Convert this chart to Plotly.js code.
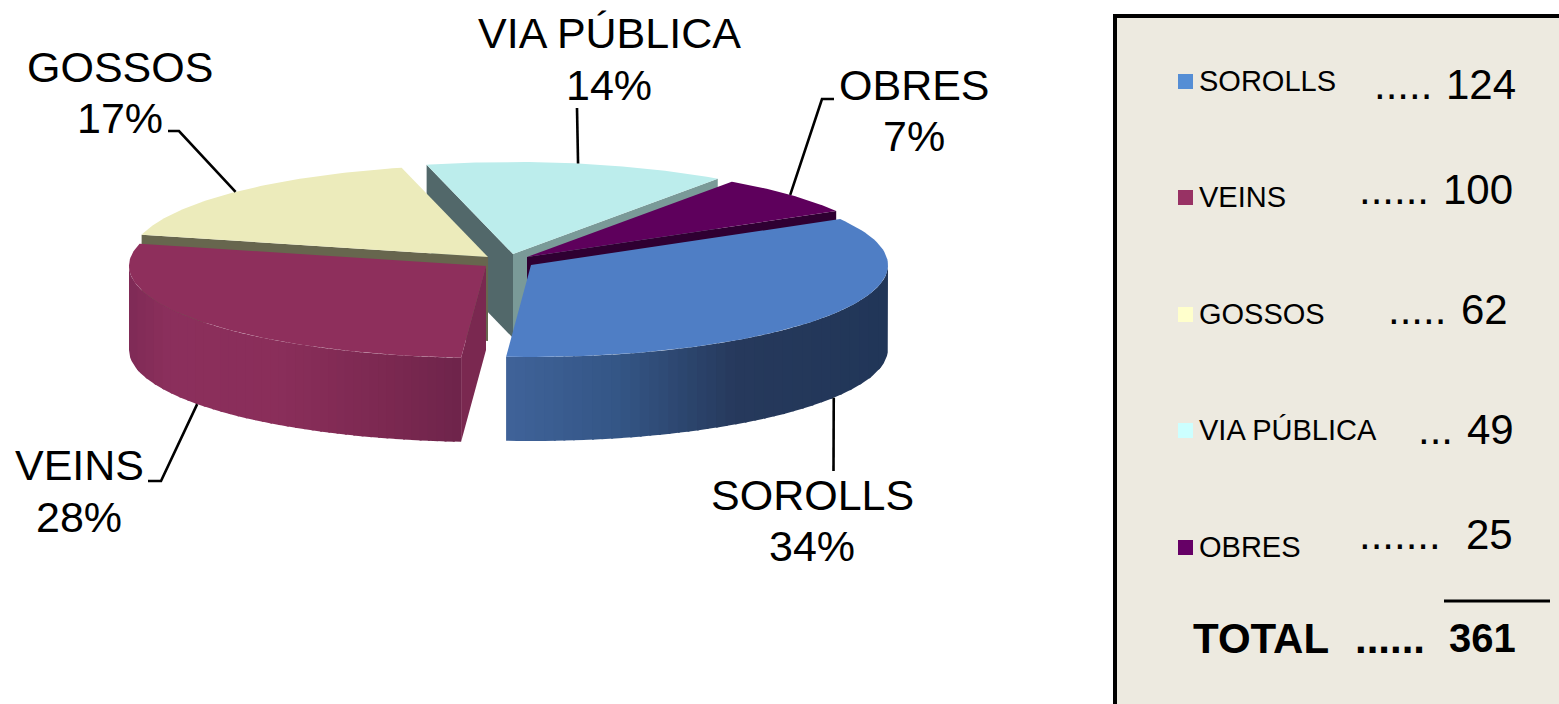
<!DOCTYPE html>
<html>
<head>
<meta charset="utf-8">
<script src="https://cdn.plot.ly/plotly-3.0.1.min.js"></script>
<style>html,body{margin:0;padding:0;background:#fff}#chart{width:1559px;height:704px}</style>
</head>
<body>
<div id="chart"></div>
<script>
// ---- data ----
const categories = ['SOROLLS', 'VEINS', 'GOSSOS', 'VIA PÚBLICA', 'OBRES'];
const values = [124, 100, 62, 49, 25];
const totalLabel = 'TOTAL';
const totalValue = 361;   // as printed in the reference panel
const legendDots = ['.....', '......', '.....', '...', '.......'];
const totalDots = '......';

// ---- styles / geometry of the drawing ----
const FONT = '"Liberation Sans", Arial, sans-serif';
const RX = 357, RY = 92, DEPTH = 84, START = 30;
const centers = [[531, 265], [486, 266], [488, 257], [513, 254], [527, 257]];
const topColors = ['#4f7ec5', '#8e2f5c', '#ecebbb', '#bcedec', '#5e005c'];
const legendColors = ['#558ed5', '#983264', '#ffffcc', '#ccffff', '#660066'];
const labelPos = [[812, 495, 546], [79, 465, 517], [120, 67, 118], [609, 33, 85], [914, 85, 136]];
const leaderElbows = [
  [[833.5, 471]],
  [[161, 481], [148, 481]],
  [[179, 131], [168, 131]],
  [[577, 108]],
  [[822, 99], [834, 99]]
];
const legendY = [81, 197, 314, 430, 547];
const legendBoxY = [82, 198, 315, 431, 548];
const numY = [84, 189, 309, 429, 534];
const numRight = [1516.5, 1513.5, 1508.5, 1514.5, 1513.5];
const dotsLeft = [1373, 1358, 1387, 1417, 1358];

const sliceTotal = values.reduce((a, b) => a + b, 0);
const rad = d => d * Math.PI / 180;
let ang = START;
const wedges = values.map((v, i) => {
  const a0 = ang, a1 = ang - v / sliceTotal * 360;
  ang = a1;
  return { a0, a1, mid: (a0 + a1) / 2, c: centers[i] };
});
const pt = (w, a, dz = 0) => [w.c[0] + RX * Math.cos(rad(a)), w.c[1] - RY * Math.sin(rad(a)) + dz];

const traces = [];
function poly(pts, color) {
  traces.push({
    type: 'scatter', mode: 'lines', x: pts.map(p => p[0]), y: pts.map(p => p[1]),
    fill: 'toself', fillcolor: color, line: { color: color, width: 0 },
    hoverinfo: 'skip', showlegend: false
  });
}
function topFace(i) {
  const w = wedges[i], pts = [w.c];
  const n = 80;
  for (let k = 0; k <= n; k++) pts.push(pt(w, w.a0 + (w.a1 - w.a0) * k / n));
  pts.push(w.c);
  poly(pts, topColors[i]);
}
function face(i, a, color) {
  const w = wedges[i], p = pt(w, a);
  poly([w.c, p, [p[0], p[1] + DEPTH], [w.c[0], w.c[1] + DEPTH], w.c], color);
}
const hex = c => [1, 3, 5].map(k => parseInt(c.substr(k, 2), 16));
function ramp(stops, t) {
  for (let k = 1; k < stops.length; k++) {
    if (t <= stops[k][0]) {
      const f = (t - stops[k - 1][0]) / (stops[k][0] - stops[k - 1][0]);
      const a = hex(stops[k - 1][1]), b = hex(stops[k][1]);
      return 'rgb(' + a.map((x, j) => Math.round(x + (b[j] - x) * f)).join(',') + ')';
    }
  }
  return stops[stops.length - 1][1];
}
function rim(i, aFrom, aTo, stops) {
  const w = wedges[i], n = 40;
  // strips of equal width on screen; each overlaps the next so no seams show
  const x0 = pt(w, aFrom)[0], x1 = pt(w, aTo)[0];
  const aOf = x => { const c = Math.max(-1, Math.min(1, (x - w.c[0]) / RX)); return -Math.acos(c) * 180 / Math.PI; };
  for (let k = 0; k < n; k++) {
    const xa = x0 + (x1 - x0) * k / n;
    const xb = Math.min(x1, x0 + (x1 - x0) * (k + 1) / n + 2);
    const pa = aOf(xa), pb = aOf(xb);
    const pts = [];
    for (let j = 0; j <= 6; j++) pts.push(pt(w, pa + (pb - pa) * j / 6));
    for (let j = 6; j >= 0; j--) pts.push(pt(w, pa + (pb - pa) * j / 6, DEPTH));
    pts.push(pts[0]);
    poly(pts, ramp(stops, (k + 0.5) / n));
  }
}

// back to front: via pública, gossos, obres, veins, sorolls
face(3, wedges[3].a0, '#52686a');
face(3, wedges[3].a1, '#7a9a98');
topFace(3);
face(2, wedges[2].a0, '#67664e');
topFace(2);
face(4, wedges[4].a1, '#2f0032');
topFace(4);
face(1, wedges[1].a0, '#7a2850');
rim(1, -180, wedges[1].a0, [[0, '#7f2b56'], [0.12, '#8b2f5c'], [0.45, '#8a2e5a'], [0.8, '#7a2850'], [1, '#6e244b']]);
topFace(1);
rim(0, wedges[0].a1, 0, [[0, '#3f6399'], [0.3, '#345585'], [0.6, '#26395c'], [1, '#213658']]);
topFace(0);

// leader lines, from each slice's mid angle to its label
const frontFacing = [true, true, false, false, false];
wedges.forEach((w, i) => {
  const p = pt(w, w.mid, frontFacing[i] ? DEPTH : 0);
  const pts = [p].concat(leaderElbows[i]);
  traces.push({
    type: 'scatter', mode: 'lines', x: pts.map(q => q[0]), y: pts.map(q => q[1]),
    line: { color: '#000', width: 2.6 }, hoverinfo: 'skip', showlegend: false
  });
});

const note = (x, y, text, size, anchor, bold) => ({
  x, y, xref: 'x', yref: 'y', text: bold ? '<b>' + text + '</b>' : text, showarrow: false,
  xanchor: anchor, yanchor: 'middle', align: anchor,
  font: { family: FONT, size, color: '#000' }, borderpad: 0
});
const annotations = [];
categories.forEach((c, i) => {
  const pct = Math.round(values[i] / sliceTotal * 100) + '%';
  annotations.push(note(labelPos[i][0], labelPos[i][1], c, 43, 'center'));
  annotations.push(note(labelPos[i][0], labelPos[i][2], pct, 43, 'center'));
  annotations.push(note(1198, legendY[i], c, 29, 'left'));
  annotations.push(note(dotsLeft[i], numY[i], legendDots[i], 42, 'left'));
  annotations.push(note(numRight[i], numY[i], String(values[i]), 42, 'right'));
});
annotations.push(note(1192, 638, totalLabel, 42, 'left', true));
annotations.push(note(1354, 638, totalDots, 42, 'left', true));
annotations.push(note(1517, 638, String(totalValue), 40, 'right', true));

const shapes = [
  { type: 'rect', xref: 'x', yref: 'y', x0: 1115, x1: 1600, y0: 16, y1: 760, layer: 'below',
    fillcolor: '#edeae0', line: { color: '#000', width: 4 } },
  { type: 'line', xref: 'x', yref: 'y', x0: 1444, x1: 1550, y0: 601, y1: 601, line: { color: '#000', width: 3 } }
];
categories.forEach((c, i) => {
  shapes.push({ type: 'rect', xref: 'x', yref: 'y', x0: 1178, x1: 1193, y0: legendBoxY[i] - 8, y1: legendBoxY[i] + 7,
    fillcolor: legendColors[i], line: { width: 0 } });
});

const axis = { visible: false, showgrid: false, zeroline: false, fixedrange: true };
Plotly.newPlot('chart', traces, {
  width: 1559, height: 704, margin: { l: 0, r: 0, t: 0, b: 0 },
  paper_bgcolor: '#fff', plot_bgcolor: '#fff', showlegend: false,
  xaxis: Object.assign({ range: [0, 1559] }, axis),
  yaxis: Object.assign({ range: [704, 0] }, axis),
  annotations, shapes
}, { displayModeBar: false, staticPlot: true });
</script>
</body>
</html>
